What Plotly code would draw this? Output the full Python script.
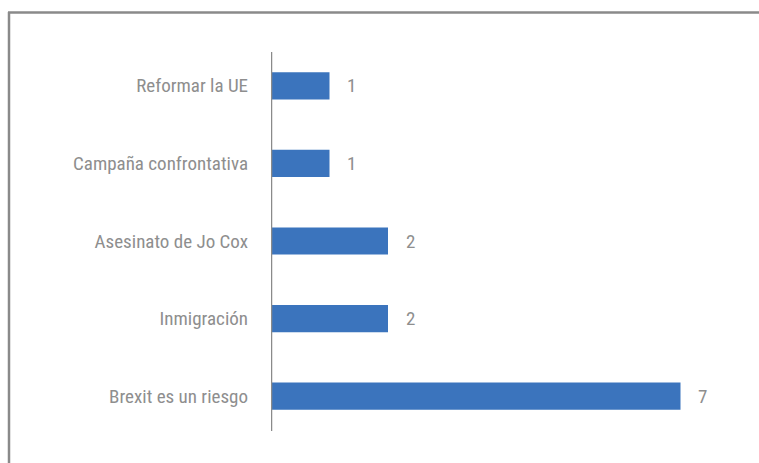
import plotly.graph_objects as go

categories = ["Reformar la UE", "Campaña confrontativa", "Asesinato de Jo Cox", "Inmigración", "Brexit es un riesgo"]
values = [1, 1, 2, 2, 7]

W, H = 759, 463
ML, MR, MT, MB = 271, 20, 47, 28
PW = W - ML - MR
PH = H - MT - MB

FONT = "Roboto Condensed, Liberation Sans Narrow, DejaVu Sans Condensed, Roboto, sans-serif"
GRAY = "#8a8a8a"
TEXT = "#8e8e8e"
BLUE = "#3b74bd"

fig = go.Figure()
fig.add_trace(go.Bar(
    x=values, y=categories, orientation="h",
    marker=dict(color=BLUE, line=dict(width=0)),
    width=0.35, hoverinfo="skip",
))

annotations = []
for c, v in zip(categories, values):
    annotations.append(dict(x=v, y=c, xref="x", yref="y", text=str(v), showarrow=False,
                            xanchor="center", yanchor="middle", xshift=22,
                            font=dict(family=FONT, size=19, color=TEXT)))

def px_x(p):
    return (p - ML) / PW

def px_y(p):
    return 1 - (p - MT) / PH

shapes = [
    # outer border (left and top)
    dict(type="line", xref="paper", yref="paper", x0=px_x(9), x1=px_x(9), y0=px_y(12), y1=px_y(463),
         line=dict(color=GRAY, width=2.5)),
    dict(type="line", xref="paper", yref="paper", x0=px_x(8), x1=px_x(759), y0=px_y(12.5), y1=px_y(12.5),
         line=dict(color=GRAY, width=2.5)),
    # category axis line
    dict(type="line", xref="x", yref="paper", x0=0, x1=0, y0=px_y(431), y1=px_y(52),
         line=dict(color=GRAY, width=2.5)),
]

fig.update_layout(
    width=W, height=H,
    margin=dict(l=ML, r=MR, t=MT, b=MB, pad=0),
    paper_bgcolor="white", plot_bgcolor="white",
    showlegend=False,
    annotations=annotations,
    shapes=shapes,
    xaxis=dict(range=[0, 8], showgrid=False, zeroline=False, showline=False, showticklabels=False, ticks=""),
    yaxis=dict(autorange="reversed", showgrid=False, zeroline=False, showline=False,
               ticks="", ticklabelstandoff=22,
               tickfont=dict(family=FONT, size=19, color=TEXT)),
    bargap=0.65,
)

fig.write_html("out.html", config={"displayModeBar": False},
               post_script="document.body.style.margin='0';document.body.style.overflow='hidden';")
